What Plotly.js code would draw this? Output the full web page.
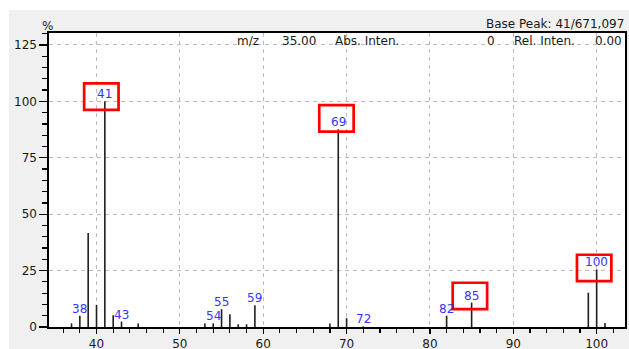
<!DOCTYPE html>
<html>
<head>
<meta charset="utf-8">
<script src="https://cdn.plot.ly/plotly-3.0.1.min.js"></script>
<style>
  html, body { margin: 0; padding: 0; background: #ffffff; width: 629px; height: 349px; overflow: hidden; }
  #chart { position: absolute; left: 9px; top: 10px; width: 620px; height: 339px; }
</style>
</head>
<body>
<div id="chart"></div>
<script>
// m/z values and relative intensities (%)
var mz        = [37, 38, 39, 40, 41, 42, 43, 45, 53, 54, 55, 56, 57, 58, 59, 68, 69, 70, 72, 82, 85, 99, 100, 101];
var intensity = [1.6, 5.0, 41.7, 9.8, 100, 5.2, 2.4, 1.6, 1.6, 1.6, 7.9, 5.7, 1.2, 1.2, 9.6, 1.6, 87.6, 3.9, 0.3, 5.0, 10.8, 15.2, 25.5, 1.8];

// peaks that carry a blue m/z label
var labelledPeaks = [38, 41, 43, 54, 55, 59, 69, 72, 82, 85, 100];
// peaks highlighted with a red box
var boxedPeaks = [41, 69, 85, 100];

var yTicks = [0, 25, 50, 75, 100, 125];
var xTicks = [40, 50, 60, 70, 80, 90, 100];

var headerTexts = {
  basePeak: 'Base Peak: 41/671,097',
  unit: '%',
  mzLabel: 'm/z', mzValue: '35.00',
  absLabel: 'Abs. Inten.', absValue: '0',
  relLabel: 'Rel. Inten.', relValue: '0.00'
};

// ---------- styling / layout ----------
var FONT = 'DejaVu Sans, Liberation Sans, sans-serif';
var plotL = 40, plotT = 23, plotW = 576, plotH = 294;
function px(xp) { return (xp - plotL) / plotW; }        // div px -> paper x
function py(yp) { return 1 - (yp - plotT) / plotH; }    // div px -> paper y

// box centre offsets in pixels (x right, y up) relative to the peak top
var boxOffsets = { 41: [-3.5, 4.7], 69: [-1.8, 11], 85: [-1.7, 6.7], 100: [-2.5, 1.5] };
var boxHalfW = 17.2, boxHalfH = 13.2;

function intensityOf(m) { return intensity[mz.indexOf(m)]; }

// stick spectrum built from the arrays
var sx = [], sy = [];
for (var i = 0; i < mz.length; i++) {
  sx.push(mz[i], mz[i], null);
  sy.push(0, intensity[i], null);
}

var traces = [{
  type: 'scatter', mode: 'lines', x: sx, y: sy,
  line: { color: '#1e1e1e', width: 1.6 },
  hoverinfo: 'skip', showlegend: false
}];

var annotations = [];
labelledPeaks.forEach(function (m) {
  annotations.push({
    x: m, y: intensityOf(m), xref: 'x', yref: 'y',
    text: String(m), showarrow: false,
    xanchor: 'center', yanchor: 'bottom', yshift: -2,
    font: { family: FONT, size: 12, color: '#3535ff' }
  });
});

var shapes = boxedPeaks.map(function (m) {
  var o = boxOffsets[m];
  return {
    type: 'rect', xref: 'x', yref: 'y',
    xsizemode: 'pixel', ysizemode: 'pixel',
    xanchor: m, yanchor: intensityOf(m),
    x0: o[0] - boxHalfW, x1: o[0] + boxHalfW,
    y0: o[1] - boxHalfH, y1: o[1] + boxHalfH,
    line: { color: '#ff0000', width: 2.7 },
    fillcolor: 'rgba(0,0,0,0)', layer: 'above'
  };
});

// header texts (pixel positions in the chart div)
function hdr(text, xp, yp, anchor) {
  annotations.push({
    xref: 'paper', yref: 'paper', x: px(xp), y: py(yp),
    text: text, showarrow: false, xanchor: anchor, yanchor: 'middle',
    font: { family: FONT, size: 12, color: '#1a1a1a' }
  });
}
hdr(headerTexts.unit, 38.5, 15.5, 'center');
hdr(headerTexts.basePeak, 616.5, 14, 'right');
hdr(headerTexts.mzLabel, 226, 31, 'left');
hdr(headerTexts.mzValue, 308.5, 31, 'right');
hdr(headerTexts.absLabel, 323.5, 31, 'left');
hdr(headerTexts.absValue, 487.5, 31, 'right');
hdr(headerTexts.relLabel, 502.5, 31, 'left');
hdr(headerTexts.relValue, 614.5, 31, 'right');

var axisCommon = {
  showline: true, linecolor: '#000000', linewidth: 1.6, mirror: true,
  ticks: 'outside', tickcolor: '#000000', tickwidth: 1.2,
  showgrid: true, gridcolor: '#bdbdbd', griddash: '4px,4px', gridwidth: 1,
  zeroline: false, fixedrange: true,
  tickfont: { family: FONT, size: 12, color: '#1a1a1a' }
};

var layout = {
  width: 620, height: 339,
  margin: { l: plotL, r: 620 - plotL - plotW, t: plotT, b: 339 - plotT - plotH, pad: 0 },
  paper_bgcolor: '#f0f0f0', plot_bgcolor: '#ffffff',
  showlegend: false, hovermode: false,
  xaxis: Object.assign({}, axisCommon, {
    range: [34.3, 103.4], tickmode: 'array', tickvals: xTicks, ticktext: xTicks.map(String),
    ticklen: 5, ticklabelstandoff: 0,
    minor: { dtick: 2, tick0: 0, ticks: 'outside', ticklen: 4, tickcolor: '#000000', tickwidth: 1.2, showgrid: false }
  }),
  yaxis: Object.assign({}, axisCommon, {
    range: [0, 130.3], tickmode: 'array', tickvals: yTicks, ticktext: yTicks.map(String),
    ticklen: 8,
    minor: { dtick: 5, tick0: 0, ticks: 'outside', ticklen: 5, tickcolor: '#000000', tickwidth: 1.2, showgrid: false }
  }),
  shapes: shapes,
  annotations: annotations
};

Plotly.newPlot('chart', traces, layout, { displayModeBar: false, staticPlot: true });
</script>
</body>
</html>
